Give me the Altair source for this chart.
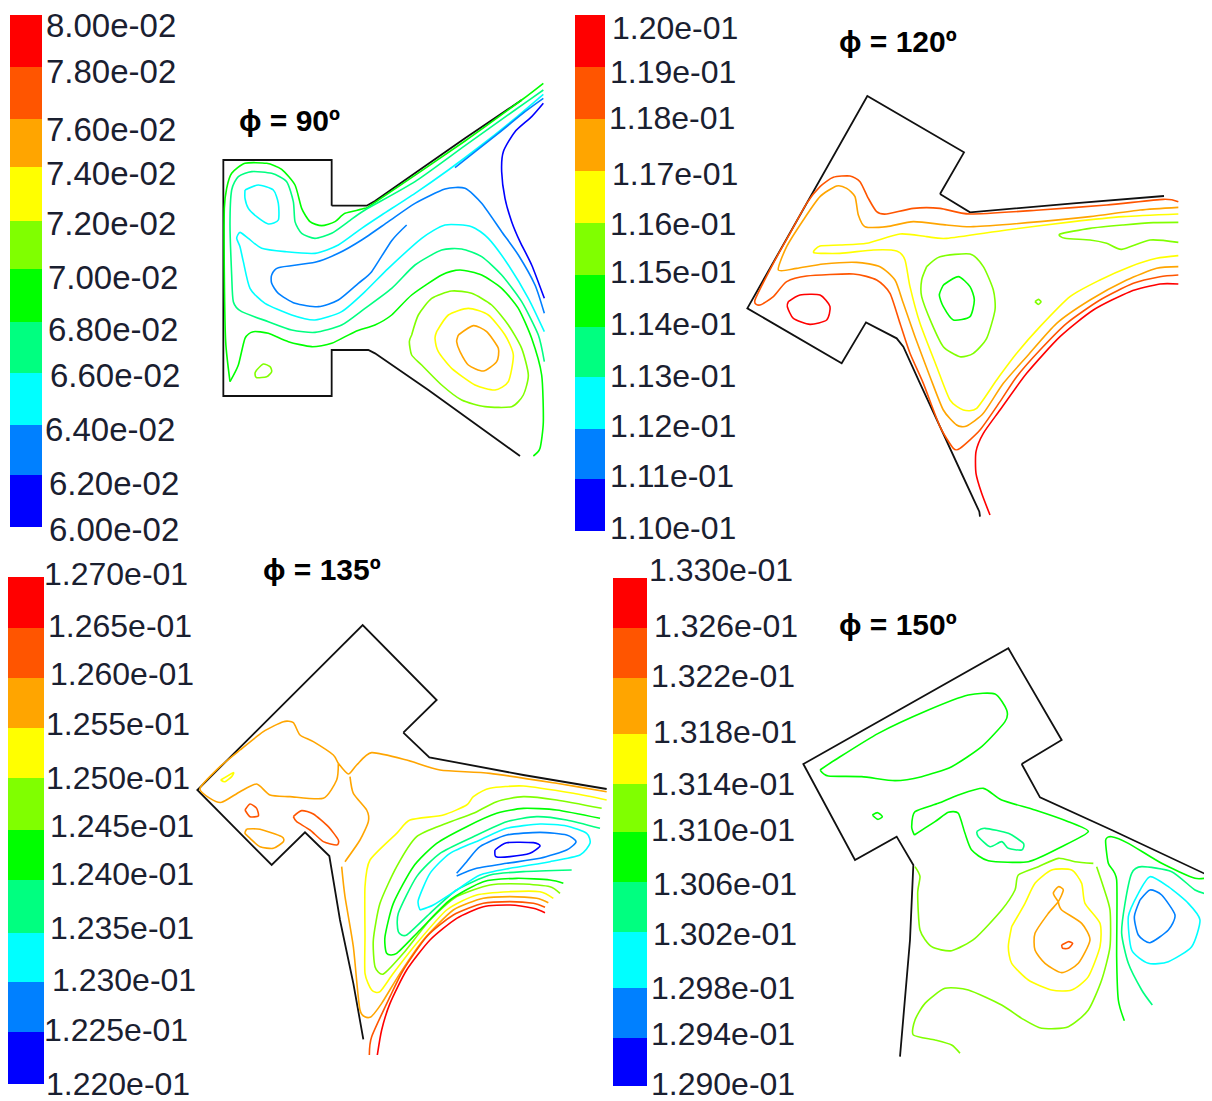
import altair as alt
import pandas as pd

RED, ORED, ORANGE, YELLOW, LIME, GREEN, SPRING, CYAN, BLUE, DBLUE = (
    "#ff0000", "#ff5500", "#ffa500", "#ffff00", "#80ff00",
    "#00ff00", "#00ff80", "#00ffff", "#0080ff", "#0000ff")
BAND_COLORS = [RED, ORED, ORANGE, YELLOW, LIME, GREEN, SPRING, CYAN, BLUE, DBLUE]
BLACK = "#111111"

# ---- colour bars: level boundaries
bar1_edges = [15, 67, 119, 167, 221, 269, 322, 373, 425, 475, 527]
bar2_edges = [15, 67, 119, 171, 223, 275, 327, 377, 429, 479, 531]
bar3_edges = [577, 628, 678, 728, 778, 830, 880, 933, 982, 1032, 1084]
bar4_edges = [578, 628, 678, 734, 784, 832, 882, 932, 988, 1038, 1086]
bar_x = [(10, 42), (575, 605), (8, 44), (613, 647)]

labels1 = ["8.00e-02", "7.80e-02", "7.60e-02", "7.40e-02", "7.20e-02", "7.00e-02", "6.80e-02", "6.60e-02", "6.40e-02", "6.20e-02", "6.00e-02"]
labels1_x = [46, 46, 46, 46, 46, 48, 48, 50, 45, 49, 49]
labels1_y = [27, 73, 131, 175, 225, 279, 331, 377, 431, 485, 531]
labels2 = ["1.20e-01", "1.19e-01", "1.18e-01", "1.17e-01", "1.16e-01", "1.15e-01", "1.14e-01", "1.13e-01", "1.12e-01", "1.11e-01", "1.10e-01"]
labels2_x = [612, 610, 609, 612, 610, 610, 610, 610, 610, 610, 610]
labels2_y = [29, 73, 119, 175, 225, 273, 325, 377, 427, 477, 529]
labels3 = ["1.270e-01", "1.265e-01", "1.260e-01", "1.255e-01", "1.250e-01", "1.245e-01", "1.240e-01", "1.235e-01", "1.230e-01", "1.225e-01", "1.220e-01"]
labels3_x = [44, 48, 50, 46, 46, 50, 50, 50, 52, 44, 46]
labels3_y = [575, 627, 675, 725, 779, 827, 875, 929, 981, 1031, 1085]
labels4 = ["1.330e-01", "1.326e-01", "1.322e-01", "1.318e-01", "1.314e-01", "1.310e-01", "1.306e-01", "1.302e-01", "1.298e-01", "1.294e-01", "1.290e-01"]
labels4_x = [649, 654, 651, 653, 651, 651, 653, 653, 651, 651, 651]
labels4_y = [571, 627, 677, 733, 785, 831, 885, 935, 989, 1035, 1085]

titles = ["\u03d5 = 90\u00ba", "\u03d5 = 120\u00ba", "\u03d5 = 135\u00ba", "\u03d5 = 150\u00ba"]
titles_x = [239, 839, 263, 839]
titles_y = [122, 43, 571, 626]

# ---- panel 1 (phi = 90), traced at 3x from origin (215, 75)
p1_origin = (215, 75)
p1_wall_a = [(350,392),(350,255),(25,255),(25,963),(350,963),(350,825),(460,825),(480,835),(640,945),(915,1143)]
p1_wall_b = [(350,392),(455,392),(480,378),(750,190),(920,75)]
p1_green = [(45,920),(32,800),(28,600),(28,400),(35,340),(50,295),(90,265),(155,265),(200,283),(240,330),(260,400),(285,440),(320,452),(360,440),(390,415),(450,400),(480,382),(750,198),(920,75),(985,25)]
p1_green_low = [(45,920),(70,870),(90,790),(115,770),(160,775),(220,800),(290,815),(350,805),(420,770),(480,750),(530,720),(590,660),(680,600),(735,585),(800,600),(860,640),(910,700),(950,790),(980,900),(985,1040),(975,1120),(955,1143)]
p1_spring = [(985,45),(900,105),(750,212),(600,320),(450,405),(400,440),(350,475),(300,490),(260,475),(240,440),(235,380),(215,320),(170,295),(110,290),(70,305),(50,345),(45,450),(50,600),(55,680),(80,710),(160,740),(230,765),(300,772),(380,750),(450,700),(530,640),(600,570),(680,525),(740,522),(800,545),(860,600),(920,680),(970,780),(988,860)]
p1_cyan_loop = [(90,345),(130,330),(175,345),(190,385),(190,435),(160,447),(125,425),(100,400),(90,370),(90,345)]
p1_cyan = [(985,58),(900,130),(800,210),(700,285),(600,355),(500,420),(440,460),(370,510),(300,535),(210,530),(140,520),(100,490),(75,472),(65,490),(75,515),(85,560),(105,640),(150,685),(230,720),(300,735),(380,710),(450,650),(520,580),(620,490),(690,450),(770,455),(820,490),(880,570),(940,670),(988,770)]
p1_blue = [(575,450),(530,497),(470,590),(430,625),(370,675),(310,695),(240,685),(190,655),(170,625),(170,600),(190,578),(300,562),(370,535),(440,495),(520,440),(600,385),(690,342),(750,340),(800,385),(860,470),(910,540),(960,630),(988,715)]
p1_blue_top = [(720,278),(850,175),(930,110),(985,70)]
p1_dblue = [(985,85),(950,125),(900,170),(865,230),(860,290),(870,370),(890,440),(915,500),(950,570),(988,670)]
p1_lime_small = [(125,885),(145,867),(165,875),(170,890),(155,905),(125,908),(120,895),(125,885)]
p1_lime = [(590,780),(610,720),(650,670),(710,648),(770,655),(830,690),(880,750),(920,820),(940,900),(925,960),(890,995),(810,995),(740,975),(680,930),(620,870),(590,840),(583,800),(590,780)]
p1_yellow = [(665,770),(700,720),(760,700),(820,720),(870,780),(895,840),(880,920),(840,945),(780,930),(710,880),(670,830),(660,790),(665,770)]
p1_orange = [(730,780),(775,752),(815,770),(850,820),(845,860),(805,888),(760,870),(735,830),(725,800),(730,780)]

# ---- panel 2 (phi = 120), origin (740, 90)
p2_origin = (740, 90)
p2_wall_a = [(600,312),(672,187),(382,18),(22,655),(305,820),(378,697),(470,745),(490,770),(540,880),(600,1010),(660,1140),(718,1265),(720,1280)]
p2_wall_b = [(600,312),(690,367),(1000,340),(1272,318)]
p2_ored = [(1315,335),(1270,328),(1100,345),(900,360),(690,372),(600,355),(520,355),(440,372),(410,365),(385,325),(360,275),(330,258),(280,262),(240,290),(200,340),(150,430),(100,520),(45,630),(60,645),(100,620),(140,575),(200,558),(340,552),(410,570),(450,610),(480,700),(510,790),(550,880),(600,1010),(640,1075),(660,1075),(720,1020),(780,935),(830,860),(900,780),(980,700),(1080,630),(1180,580),(1260,560),(1315,555)]
p2_orange = [(1315,352),(1200,360),(1050,380),(900,395),(700,410),(620,405),(520,395),(440,410),(375,410),(355,375),(345,320),(320,295),(290,288),(240,320),(190,390),(140,470),(115,540),(170,535),(250,522),(350,517),(420,530),(465,570),(490,640),(525,740),(570,860),(610,960),(650,1005),(680,1008),(730,970),(790,880),(860,800),(950,700),(1050,630),(1160,570),(1250,535),(1315,530)]
p2_yellow = [(1315,372),(1150,380),(1000,395),(800,420),(620,445),(560,440),(480,432),(380,460),(300,465),(240,468),(222,488),(300,490),(400,480),(470,483),(495,510),(510,590),(540,700),(590,830),(630,930),(670,960),(710,955),(770,870),(830,790),(900,710),(990,620),(1080,570),(1170,530),(1250,505),(1315,497)]
p2_red_loop = [(145,635),(180,615),(240,615),(270,650),(260,690),(210,703),(160,685),(142,650),(145,635)]
p2_red = [(750,1275),(725,1210),(708,1150),(708,1085),(730,1030),(780,960),(860,850),(960,740),(1060,660),(1170,605),(1260,582),(1315,582)]
p2_lime_top = [(1315,397),(1240,398),(1150,405),(1050,415),(960,432),(975,445),(1050,450),(1100,460),(1145,478),(1230,450),(1315,457)]
p2_lime_loop = [(560,530),(600,500),(690,492),(730,530),(760,600),(765,660),(740,745),(700,790),(660,800),(610,770),(575,700),(545,620),(545,570),(560,530)]
p2_lime_small = [(885,635),(895,628),(903,635),(895,643),(885,635)]
p2_green = [(610,585),(655,560),(690,590),(703,630),(690,680),(640,690),(610,650),(598,615),(610,585)]

# ---- panel 3 (phi = 135), origin (190, 620)
p3_origin = (190, 620)
p3_wall_a = [(640,338),(740,240),(518,15),(22,510),(245,735),(345,637),(418,708),(450,900),(490,1090),(520,1258)]
p3_wall_b = [(640,338),(718,412),(1000,465),(1250,507)]
p3_orange_top = [(1250,515),(1100,490),(900,460),(750,450),(650,420),(545,398),(500,435),(475,462),(445,430),(430,405),(370,365),(330,345),(310,308),(280,305),(220,335),(150,390),(90,440),(30,505),(60,535),(95,547),(150,515),(200,492),(240,525),(300,530),(400,535),(440,480),(445,430)]
p3_orange_branch = [(480,470),(490,520),(530,570),(535,605),(510,660),(465,725)]
p3_orange = [(455,740),(465,830),(490,980),(510,1170),(540,1192),(575,1150),(630,1060),(700,960),(790,870),(880,835),(960,830),(1040,835),(1075,848)]
p3_red = [(562,1305),(575,1230),(600,1150),(650,1050),(720,960),(800,895),(880,860),(960,855),(1030,865),(1065,878)]
p3_ored = [(538,1305),(545,1250),(600,1130),(640,1050),(710,950),(790,885),(880,850),(960,845),(1030,850),(1065,862)]
p3_yellow = [(1250,540),(1150,520),(1000,498),(900,505),(850,530),(830,555),(760,585),(660,600),(620,640),(540,720),(525,800),(525,950),(525,1060),(545,1110),(570,1115),(610,1060),(680,970),(770,870),(860,825),(960,815),(1050,815),(1090,835)]
p3_lime = [(1235,565),(1100,540),(1000,530),(920,545),(850,580),(770,610),(680,650),(620,740),(570,850),(550,960),(555,1040),(580,1062),(640,1000),(720,900),(800,830),(900,795),(1000,792),(1080,800),(1110,820)]
p3_green = [(1230,595),(1100,570),(1000,565),(920,580),(830,620),(740,670),(670,740),(610,850),(585,950),(590,1000),(620,1000),(690,930),(780,840),(880,785),(980,775),(1080,780),(1120,790)]
p3_spring = [(1230,625),(1130,600),(1040,590),(950,605),(850,650),(750,700),(680,770),(625,880),(625,935),(650,945),(720,880),(800,810),(900,765),(1000,755),(1145,750)]
p3_cyan = [(690,870),(685,840),(720,760),(780,700),(870,660),(950,625),(1050,612),(1130,618),(1190,640),(1200,670),(1170,705),(1080,725),(960,745),(870,765),(800,810),(730,855),(690,870)]
p3_blue = [(800,760),(830,725),(870,680),(950,645),(1050,637),(1130,645),(1158,665),(1130,690),(1050,715),(950,730),(860,745),(800,768)]
p3_dblue = [(915,690),(950,668),(1030,668),(1050,678),(1020,700),(960,710),(918,710),(915,690)]
p3_ored_loop = [(310,590),(335,572),(370,582),(415,620),(445,660),(440,675),(400,665),(360,630),(320,605),(310,590)]
p3_ored_small = [(165,570),(180,552),(200,565),(205,588),(180,590),(165,570)]
p3_orange_loop = [(170,627),(210,628),(275,650),(280,665),(250,685),(210,680),(180,655),(165,640),(170,627)]
p3_yellow_small = [(92,480),(130,458),(125,470),(105,485),(92,480)]

# ---- panel 4 (phi = 150), origin (795, 640)
p4_origin = (795, 640)
p4_wall_a = [(680,372),(800,300),(640,25),(25,372),(180,660),(305,590),(355,675),(345,900),(315,1250)]
p4_wall_b = [(680,372),(735,472),(950,570),(1248,710)]
p4_green_top = [(75,390),(120,360),(250,280),(400,210),(520,165),(600,162),(635,210),(630,245),(560,320),(470,380),(380,410),(300,422),(200,410),(100,408),(75,390)]
p4_green_mid = [(358,585),(350,560),(360,515),(430,490),(490,465),(565,445),(620,480),(720,510),(820,545),(880,575),(800,620),(700,665),(580,662),(530,630),(510,580),(490,520),(460,517),(420,545),(358,585)]
p4_green_tiny = [(232,525),(248,518),(262,530),(248,538),(232,525)]
p4_spring_mid = [(545,575),(570,565),(640,580),(685,610),(680,630),(640,625),(620,605),(585,620),(550,590),(545,575)]
p4_green_right = [(1248,710),(1200,715),(1100,670),(1000,610),(950,590),(932,600),(940,670),(965,720),(965,950),(970,1080),(988,1142)]
p4_spring_right = [(1248,765),(1200,750),(1130,695),(1040,680),(1010,700),(990,790),(980,880),(1000,970),(1040,1050),(1072,1095)]
p4_cyan = [(1030,760),(1065,710),(1120,740),(1180,790),(1215,840),(1190,920),(1120,965),(1060,970),(1010,930),(1000,830),(1030,760)]
p4_blue = [(1035,780),(1065,750),(1100,765),(1140,825),(1120,870),(1065,908),(1030,885),(1018,830),(1035,780)]
p4_lime_a = [(360,680),(375,710),(368,760),(375,870),(410,920),(470,932),(540,895),(620,810),(660,750),(670,705),(730,680),(790,655),(840,665),(895,670)]
p4_lime_b = [(905,680),(925,740),(945,810),(945,920),(920,1020),(880,1110),(820,1160),(740,1165),(680,1135),(620,1095),(520,1050),(450,1045),(390,1090),(360,1140),(355,1185),(420,1200),(470,1215),(495,1240)]
p4_yellow = [(650,860),(690,790),(720,730),(770,690),(830,690),(860,730),(870,790),(915,850),(915,920),(880,1010),(830,1050),(770,1050),(700,1020),(650,970),(640,920),(650,860)]
p4_orange = [(790,785),(775,760),(790,740),(805,750),(790,785),(760,820),(720,880),(720,930),(750,970),(800,998),(850,970),(885,900),(860,850),(800,810),(790,785)]
p4_ored = [(800,915),(820,905),(833,910),(820,925),(803,925),(800,915)]

panels = [
    (p1_origin, [p1_wall_a, p1_wall_b], [
        (GREEN, p1_green), (GREEN, p1_green_low), (SPRING, p1_spring), (CYAN, p1_cyan_loop), (CYAN, p1_cyan),
        (BLUE, p1_blue), (BLUE, p1_blue_top), (DBLUE, p1_dblue), (LIME, p1_lime_small), (LIME, p1_lime),
        (YELLOW, p1_yellow), (ORANGE, p1_orange)]),
    (p2_origin, [p2_wall_a, p2_wall_b], [
        (ORED, p2_ored), (ORANGE, p2_orange), (YELLOW, p2_yellow), (RED, p2_red_loop), (RED, p2_red),
        (LIME, p2_lime_top), (LIME, p2_lime_loop), (LIME, p2_lime_small), (GREEN, p2_green)]),
    (p3_origin, [p3_wall_a, p3_wall_b], [
        (ORANGE, p3_orange_top), (ORANGE, p3_orange_branch), (ORANGE, p3_orange), (RED, p3_red), (ORED, p3_ored),
        (YELLOW, p3_yellow), (LIME, p3_lime), (GREEN, p3_green), (SPRING, p3_spring), (CYAN, p3_cyan),
        (BLUE, p3_blue), (DBLUE, p3_dblue), (ORED, p3_ored_loop), (ORED, p3_ored_small),
        (ORANGE, p3_orange_loop), (YELLOW, p3_yellow_small)]),
    (p4_origin, [p4_wall_a, p4_wall_b], [
        (GREEN, p4_green_top), (GREEN, p4_green_mid), (GREEN, p4_green_tiny), (SPRING, p4_spring_mid),
        (GREEN, p4_green_right), (SPRING, p4_spring_right), (CYAN, p4_cyan), (BLUE, p4_blue),
        (LIME, p4_lime_a), (LIME, p4_lime_b), (YELLOW, p4_yellow), (ORANGE, p4_orange), (ORED, p4_ored)]),
]

wall_rows, contour_rows = [], []
lid = 0
for origin, walls, contours in panels:
    for pts in walls:
        lid += 1
        for k, (a, b) in enumerate(pts):
            wall_rows.append(dict(id=lid, k=k, x=origin[0] + a / 3, y=origin[1] + b / 3))
    for color, pts in contours:
        lid += 1
        for k, (a, b) in enumerate(pts):
            contour_rows.append(dict(id=lid, k=k, x=origin[0] + a / 3, y=origin[1] + b / 3, c=color))

band_rows = []
for (x0, x1), edges in zip(bar_x, [bar1_edges, bar2_edges, bar3_edges, bar4_edges]):
    for i, col in enumerate(BAND_COLORS):
        band_rows.append(dict(x=x0, x2=x1, y=edges[i], y2=edges[i + 1], c=col))

label_rows = []
for txts, xs, ys, size in [(labels1, labels1_x, labels1_y, 33), (labels2, labels2_x, labels2_y, 32),
                           (labels3, labels3_x, labels3_y, 32), (labels4, labels4_x, labels4_y, 32)]:
    label_rows += [dict(t=t, x=x, y=y, s=size) for t, x, y in zip(txts, xs, ys)]
title_rows = [dict(t=t, x=x, y=y) for t, x, y in zip(titles, titles_x, titles_y)]

X = alt.X("x:Q", scale=alt.Scale(domain=[8, 1204]), axis=None)
Y = alt.Y("y:Q", scale=alt.Scale(domain=[1101, 8]), axis=None)

bands = alt.Chart(pd.DataFrame(band_rows)).mark_rect().encode(
    x=X, x2="x2:Q", y=Y, y2="y2:Q", color=alt.Color("c:N", scale=None))
walls_l = alt.Chart(pd.DataFrame(wall_rows)).mark_line(strokeWidth=1.8, color=BLACK).encode(
    x=X, y=Y, detail="id:N", order="k:Q")
contours_l = alt.Chart(pd.DataFrame(contour_rows)).mark_line(
    strokeWidth=1.6, interpolate="cardinal", tension=0.35
).encode(x=X, y=Y, detail="id:N", order="k:Q", color=alt.Color("c:N", scale=None))
label_t = alt.Chart(pd.DataFrame(label_rows)).mark_text(
    align="left", baseline="middle", font="Liberation Sans", color="#1a2030"
).encode(x=X, y=Y, text="t:N", size=alt.Size("s:Q", scale=None))
title_t = alt.Chart(pd.DataFrame(title_rows)).mark_text(
    align="left", baseline="middle", font="Liberation Sans", fontSize=30, fontWeight="bold", color="#000000"
).encode(x=X, y=Y, text="t:N")

chart = alt.layer(bands, walls_l, contours_l, label_t, title_t).properties(
    width=1196, height=1093, padding=0, background="#ffffff",
    autosize=alt.AutoSizeParams(type="none")
).configure_view(stroke=None)

chart.save("out.html", embed_options={"renderer": "svg", "actions": False})
